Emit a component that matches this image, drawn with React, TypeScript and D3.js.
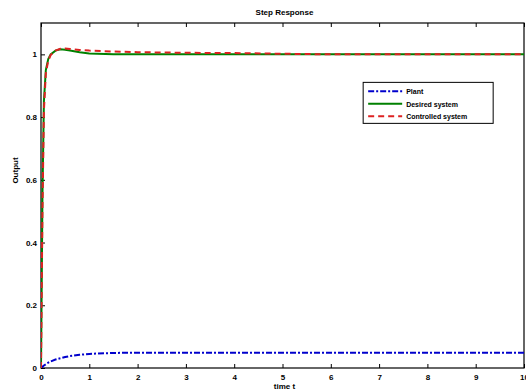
import React, { useRef, useEffect } from "react";
import * as d3 from "d3";

// time samples (s)
const times = [0, 0.03, 0.06, 0.1, 0.15, 0.2, 0.3, 0.4, 0.5, 0.6, 0.8, 1, 1.5, 2, 3, 4, 5, 6, 7, 8, 9, 10];
const plant = [0, 0.004, 0.008, 0.012, 0.017, 0.021, 0.027, 0.031, 0.035, 0.038, 0.042, 0.045, 0.048, 0.049, 0.049, 0.049, 0.049, 0.049, 0.049, 0.049, 0.049, 0.049];
const desired = [0, 0.55, 0.85, 0.95, 0.985, 1.0, 1.012, 1.016, 1.015, 1.012, 1.007, 1.003, 1.0, 1.0, 1.0, 1.0, 1.0, 1.0, 1.0, 1.0, 1.0, 1.0];
const controlled = [0, 0.5, 0.82, 0.94, 0.98, 0.998, 1.012, 1.018, 1.019, 1.017, 1.014, 1.012, 1.009, 1.007, 1.005, 1.004, 1.002, 1.0, 1.0, 1.0, 1.0, 1.0];

const xTicks = [0, 1, 2, 3, 4, 5, 6, 7, 8, 9, 10];
const yTicks = [0, 0.2, 0.4, 0.6, 0.8, 1];
const legendLabels = ["Plant", "Desired system", "Controlled system"];

const W = 526;
const H = 392;
const margin = { left: 41, right: 2, top: 23, bottom: 24 };

const App = () => {
  const svgRef = useRef(null);

  useEffect(() => {
    const svg = d3.select(svgRef.current);
    svg.selectAll("*").remove();
    const iw = W - margin.left - margin.right;
    const ih = H - margin.top - margin.bottom;

    const x = d3.scaleLinear().domain([0, 10]).range([0, iw]);
    const y = d3.scaleLinear().domain([0, 1.1]).range([ih, 0]);

    const g = svg.append("g").attr("transform", `translate(${margin.left},${margin.top})`);
    const font = "Liberation Sans, Arial, sans-serif";

    // frame
    g.append("rect")
      .attr("width", iw).attr("height", ih)
      .attr("fill", "white").attr("stroke", "black").attr("stroke-width", 1.2);

    // ticks (inward, MATLAB style)
    const xa = g.append("g").attr("transform", `translate(0,${ih})`)
      .call(d3.axisBottom(x).tickValues(xTicks).tickSizeInner(-4).tickSizeOuter(0).tickPadding(6).tickFormat(d3.format("d")));
    const xt = g.append("g")
      .call(d3.axisTop(x).tickValues(xTicks).tickSizeInner(-4).tickSizeOuter(0).tickFormat(() => ""));
    const ya = g.append("g")
      .call(d3.axisLeft(y).tickValues(yTicks).tickSizeInner(-4).tickSizeOuter(0).tickPadding(4).tickFormat(d3.format("~g")));
    [xa, xt, ya].forEach((a) => {
      a.select(".domain").remove();
      a.selectAll("text").attr("font-family", font).attr("font-size", 8).attr("font-weight", "bold").attr("fill", "black");
      a.selectAll("line").attr("stroke", "black");
    });

    const line = (vals) => d3.line()
      .x((d, i) => x(times[i]))
      .y((d) => y(d))(vals);

    const series = [
      { vals: plant, color: "#0000cc", dash: "6,2,2,2" },
      { vals: desired, color: "#008000", dash: null },
      { vals: controlled, color: "#dd2222", dash: "6,4" },
    ];

    const clip = svg.append("clipPath").attr("id", "clip").append("rect").attr("width", iw).attr("height", ih);
    const pg = g.append("g").attr("clip-path", "url(#clip)");
    series.forEach((s) => {
      pg.append("path")
        .attr("d", line(s.vals))
        .attr("fill", "none")
        .attr("stroke", s.color)
        .attr("stroke-width", 2)
        .attr("stroke-dasharray", s.dash);
    });

    // legend
    const lg = g.append("g").attr("transform", `translate(${x(6.67)},${y(1.0) + 28})`);
    lg.append("rect").attr("width", 130).attr("height", 41)
      .attr("fill", "white").attr("stroke", "black").attr("stroke-width", 1);
    series.forEach((s, i) => {
      const yy = 9 + i * 12.5;
      lg.append("line").attr("x1", 5).attr("x2", 39).attr("y1", yy).attr("y2", yy)
        .attr("stroke", s.color).attr("stroke-width", 2).attr("stroke-dasharray", s.dash);
      lg.append("text").attr("x", 43).attr("y", yy + 3)
        .attr("font-family", font).attr("font-size", 7).attr("font-weight", "bold")
        .text(legendLabels[i]);
    });

    // labels
    svg.append("text").attr("x", margin.left + iw / 2 + 2).attr("y", 15)
      .attr("text-anchor", "middle").attr("font-family", font).attr("font-size", 8).attr("font-weight", "bold")
      .text("Step Response");
    svg.append("text").attr("x", margin.left + iw / 2 + 2).attr("y", H - 3)
      .attr("text-anchor", "middle").attr("font-family", font).attr("font-size", 8).attr("font-weight", "bold")
      .text("time t");
    svg.append("text").attr("transform", `translate(18,${margin.top + ih / 2 - 25}) rotate(-90)`)
      .attr("text-anchor", "middle").attr("font-family", font).attr("font-size", 8).attr("font-weight", "bold")
      .text("Output");
  }, []);

  return (
    <div style={{ position: "fixed", left: 0, top: 0 }}>
      <svg ref={svgRef} width={W} height={H} style={{ display: "block", background: "white" }}></svg>
    </div>
  );
};

export default App;
